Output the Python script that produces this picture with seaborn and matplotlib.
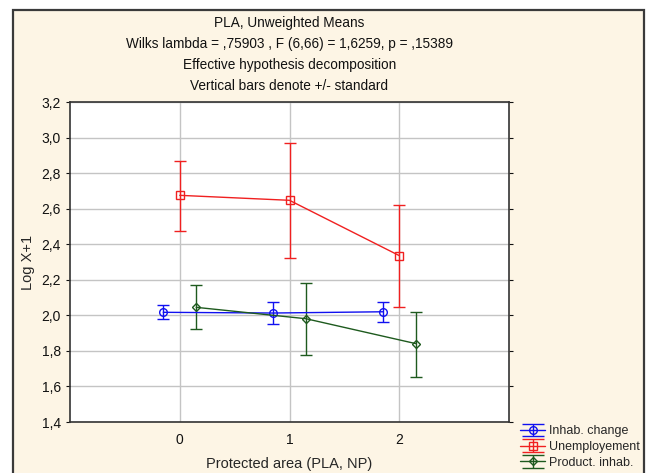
import numpy as np
import pandas as pd
import matplotlib
matplotlib.use("Agg")
import matplotlib.pyplot as plt
import seaborn as sns
from matplotlib.patches import Rectangle
from matplotlib.ticker import FuncFormatter

# ---- data ----
levels = [0, 1, 2]
series_names = ["Inhab. change", "Unemployement", "Product. inhab."]
inhab_mean = [2.017, 2.013, 2.020]
inhab_lo = [1.980, 1.951, 1.963]
inhab_hi = [2.057, 2.077, 2.077]
unemp_mean = [2.675, 2.647, 2.336]
unemp_lo = [2.476, 2.324, 2.045]
unemp_hi = [2.870, 2.968, 2.621]
prod_mean = [2.045, 1.981, 1.841]
prod_lo = [1.923, 1.779, 1.653]
prod_hi = [2.171, 2.184, 2.021]
title_lines = ["PLA, Unweighted Means",
               "Wilks lambda = ,75903 , F (6,66) = 1,6259, p = ,15389",
               "Effective hypothesis decomposition",
               "Vertical bars denote +/- standard"]
x_label = "Protected area (PLA, NP)"
y_label = "Log X+1"
y_ticks = [1.4, 1.6, 1.8, 2.0, 2.2, 2.4, 2.6, 2.8, 3.0, 3.2]

# ---- styles ----
colors = {"Inhab. change": "#1010F0", "Unemployement": "#F02020", "Product. inhab.": "#1E5A1E"}
markers = {"Inhab. change": "o", "Unemployement": "s", "Product. inhab.": "D"}
msizes = {"Inhab. change": 5.5, "Unemployement": 5.5, "Product. inhab.": 4}
dodge = {"Inhab. change": -0.15, "Unemployement": 0.0, "Product. inhab.": 0.15}

means = {"Inhab. change": inhab_mean, "Unemployement": unemp_mean, "Product. inhab.": prod_mean}
los = {"Inhab. change": inhab_lo, "Unemployement": unemp_lo, "Product. inhab.": prod_lo}
his = {"Inhab. change": inhab_hi, "Unemployement": unemp_hi, "Product. inhab.": prod_hi}

rows = []
for s in series_names:
    for i, lv in enumerate(levels):
        rows.append({"series": s, "x": lv + dodge[s], "mean": means[s][i],
                     "lo": los[s][i], "hi": his[s][i]})
df = pd.DataFrame(rows)

sns.set_style("white")
plt.rcParams["font.family"] = ["Liberation Sans", "DejaVu Sans"]

fig = plt.figure(figsize=(6.5, 4.73), dpi=100)
fig.patch.set_facecolor("white")
bg = Rectangle((13 / 650, -0.1), (644 - 13) / 650, 1.1 - 10 / 473,
               transform=fig.transFigure, facecolor="#FDF5E5", edgecolor="#3a3a3a",
               linewidth=1.6, zorder=-5)
fig.patches.append(bg)

ax = fig.add_axes([70 / 650, 1 - 422 / 473, 439 / 650, 320 / 473])
ax.set_zorder(2)
ax.set_facecolor("white")

for s in series_names:
    sub = df[df["series"] == s]
    sns.lineplot(data=sub, x="x", y="mean", ax=ax, color=colors[s], marker=markers[s],
                 markersize=msizes[s], markerfacecolor="none", markeredgecolor=colors[s],
                 markeredgewidth=1.0, linewidth=1.0, legend=False, zorder=3)
    ax.errorbar(sub["x"], sub["mean"],
                yerr=[sub["mean"] - sub["lo"], sub["hi"] - sub["mean"]],
                fmt="none", ecolor=colors[s], elinewidth=1.0, capsize=4, capthick=1.0, zorder=2)

handles = []
for s in series_names:
    h = ax.errorbar([np.nan], [np.nan], yerr=[np.nan], fmt="-", marker=markers[s],
                    color=colors[s], mfc="none", mec=colors[s], ms=msizes[s],
                    lw=1.0, elinewidth=1.0, capsize=8, label=s)
    handles.append(h)

ax.set_xlim(-1, 3)
ax.set_ylim(1.4, 3.2)
ax.set_xticks(levels)
ax.set_yticks(y_ticks)
ax.yaxis.set_major_formatter(FuncFormatter(lambda v, p: f"{v:.1f}".replace(".", ",")))
ax.grid(True, color="#c4c4c4", linewidth=1.0)
ax.set_axisbelow(True)
for sp in ax.spines.values():
    sp.set_color("#333333")
    sp.set_linewidth(1.2)
ax.tick_params(axis="both", labelsize=10, colors="#111111", length=3, direction="out")
ax.tick_params(axis="x", pad=5)
ax.tick_params(axis="y", right=True, left=True)
ax.set_xlabel(x_label, fontsize=10.5, labelpad=7)
ax.set_ylabel(y_label, fontsize=10.5, labelpad=5)

cx = (70 + 509) / 2 / 650
for i, t in enumerate(title_lines):
    fig.text(cx, 1 - (23 + 21 * i) / 473, t, ha="center", va="center", fontsize=9.8, color="#111111")

leg = ax.legend(handles=handles, labels=series_names, loc="upper left",
                bbox_to_anchor=(519 / 650, 1 - 424 / 473), bbox_transform=fig.transFigure,
                frameon=False, fontsize=9, handlelength=2.0, handletextpad=0.3,
                labelspacing=0.3, borderpad=0.1, borderaxespad=0)

fig.savefig("out.png", dpi=100, facecolor=fig.get_facecolor())
